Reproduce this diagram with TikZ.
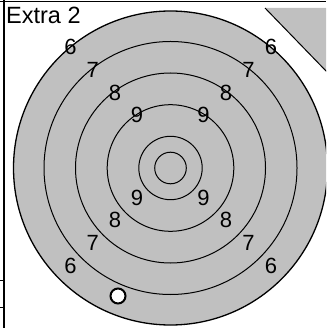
\documentclass[tikz,border=0pt]{standalone}
\usepackage{fontspec}
\setmainfont{Liberation Sans}
\definecolor{tgray}{RGB}{192,192,192}
\begin{document}
\begin{tikzpicture}[x=1pt,y=-1pt,
  ring/.style={draw=black,line width=1pt},
  lbl/.style={font=\fontsize{22}{22}\selectfont,inner sep=0pt,anchor=center},
  frame/.style={draw=black,line width=1.5pt}]
\useasboundingbox (0,0) rectangle (326,328);
\begin{scope}
\clip (0,0) rectangle (326,328);
% corner triangle
\fill[tgray] (265,8) -- (327,8) -- (327,72) -- cycle;
\draw[line width=1pt] (265,8) -- (327,72);
% target
\coordinate (c) at (170.5,168);
\draw[fill=tgray,line width=1.3pt] (c) circle[radius=157];
\foreach \r in {126.5,95,63.3,31.7,15.8} \draw[ring] (c) circle[radius=\r];
% labels
\node[lbl] (l6a) at (70.5,47) {6};
\node[lbl] (l7a) at (92.7,69.8) {7};
\node[lbl] (l8a) at (114.9,92.6) {8};
\node[lbl] (l9a) at (137.1,115.4) {9};
\node[lbl] (r6a) at (271,47) {6};
\node[lbl] (r7a) at (248.5,69.8) {7};
\node[lbl] (r8a) at (226,92.6) {8};
\node[lbl] (r9a) at (203.5,115.4) {9};
\node[lbl] (l6b) at (70.5,266) {6};
\node[lbl] (l7b) at (92.7,243.2) {7};
\node[lbl] (l8b) at (114.9,220.4) {8};
\node[lbl] (l9b) at (137.1,197.6) {9};
\node[lbl] (r6b) at (271,266) {6};
\node[lbl] (r7b) at (248.5,243.2) {7};
\node[lbl] (r8b) at (226,220.4) {8};
\node[lbl] (r9b) at (203.5,197.6) {9};
% shot hole
\draw[fill=white,line width=2pt] (118,296) circle[radius=7.5];
% frame lines
\draw[frame] (0,1.5) -- (326,1.5);
\draw[frame] (4,0) -- (4,328);
\draw[line width=1pt] (0,280) -- (4,280);
\draw[line width=1pt] (0,307.5) -- (4,307.5);
% title
\node[font=\fontsize{23.5}{23.5}\selectfont,inner sep=0pt,anchor=base west] (title) at (6,23.5) {Extra 2};
\end{scope}
\end{tikzpicture}
\end{document}
